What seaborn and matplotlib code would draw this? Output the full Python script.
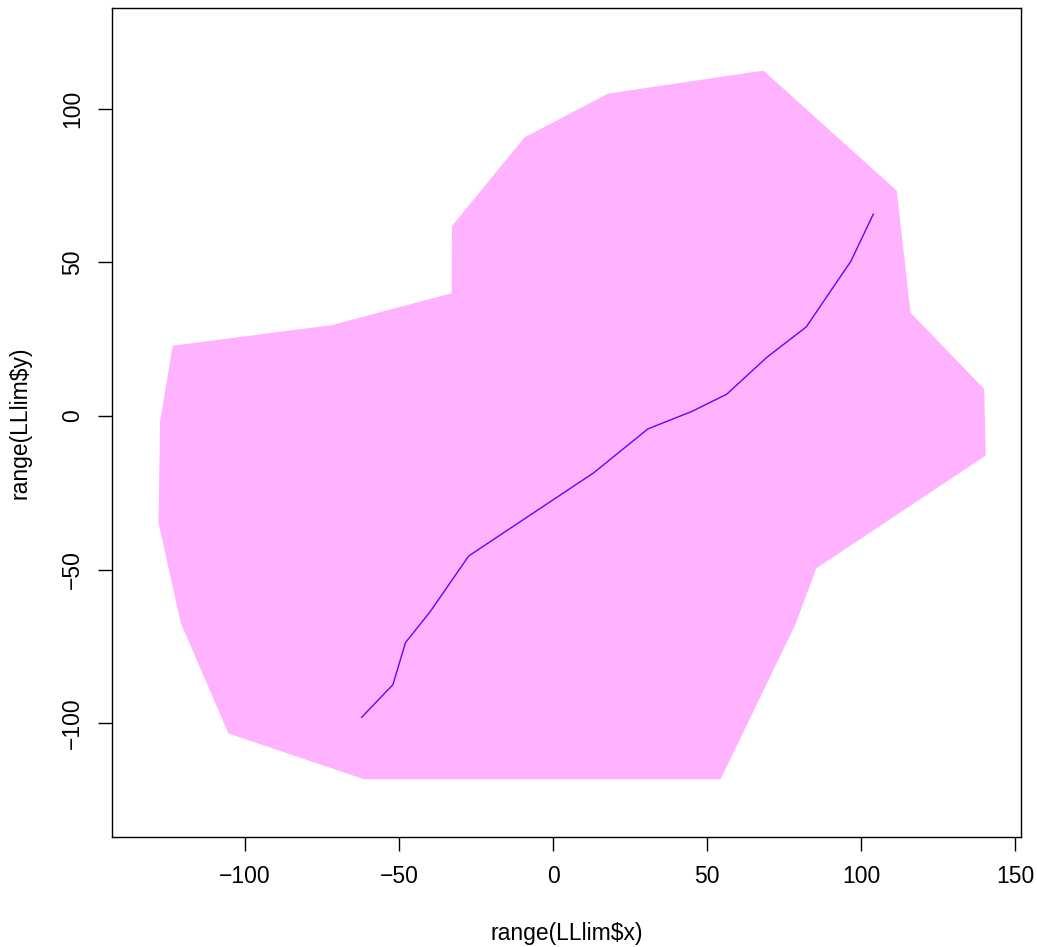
import matplotlib
matplotlib.use("Agg")
import matplotlib.pyplot as plt
import seaborn as sns
import pandas as pd

# Envelope polygon (vertices in drawing order)
poly_x = [-61.4, 54.4, 78.7, 85.5, 140.5, 140.0, 116.1, 111.6, 68.3, 17.8,
          -9.3, -32.8, -32.9, -71.8, -123.5, -127.6, -128.1, -120.9, -105.4]
poly_y = [-118.3, -118.3, -67.9, -49.6, -12.9, 8.8, 33.6, 73.4, 112.5, 105.0,
          90.7, 61.9, 40.0, 29.6, 22.9, -1.9, -34.8, -67.3, -103.4]

# Central path through the envelope
path_x = [-62.2, -52.0, -47.9, -39.8, -27.4, 13.2, 30.8, 45.1, 56.4, 69.4,
          82.2, 96.7, 104.0]
path_y = [-98.2, -87.5, -73.8, -63.6, -45.6, -18.5, -4.2, 1.5, 7.1, 19.1,
          29.0, 50.4, 65.8]

x_ticks = [-100, -50, 0, 50, 100, 150]
y_ticks = [-100, -50, 0, 50, 100]
x_label = r"range(LLlim\$x)"
y_label = r"range(LLlim\$y)"

sns.set_theme(style="white")
plt.rcParams["font.family"] = ["Liberation Sans", "DejaVu Sans"]

fig = plt.figure(figsize=(10.37, 9.47), dpi=100)
ax = fig.add_axes([0.108, 0.1162, 0.8763, 0.8754])

ax.fill(poly_x, poly_y, color="#FFB3FF", linewidth=0)
path = pd.DataFrame({"x": path_x, "y": path_y})
sns.lineplot(data=path, x="x", y="y", sort=False, estimator=None,
             color="#6A00FF", linewidth=1.0, ax=ax)

ax.set_xlim(-143.2, 151.85)
ax.set_ylim(-137.1, 132.9)
ax.set_xticks(x_ticks)
ax.set_yticks(y_ticks)
ax.set_xticklabels([str(v).replace("-", "\u2212") for v in x_ticks])
ax.set_yticklabels([str(v).replace("-", "\u2212") for v in y_ticks],
                   rotation=90, va="center")

for s in ax.spines.values():
    s.set_visible(True)
    s.set_color("black")
    s.set_linewidth(1.0)

ax.tick_params(axis="both", which="major", direction="out", length=10,
               width=1.0, color="black", labelsize=16.5, labelcolor="black",
               pad=10, bottom=True, left=True)

ax.set_xlabel(x_label, fontsize=16.5, color="black")
ax.set_ylabel(y_label, fontsize=16.5, color="black")
ax.xaxis.label.set_va("center")
ax.yaxis.label.set_va("center")
ax.xaxis.set_label_coords(0.5, -(934 - 837) / 829)
ax.yaxis.set_label_coords((20 - 112) / 908.7, 0.5)
ax.grid(False)

fig.savefig("out.png", dpi=100, facecolor="white")
